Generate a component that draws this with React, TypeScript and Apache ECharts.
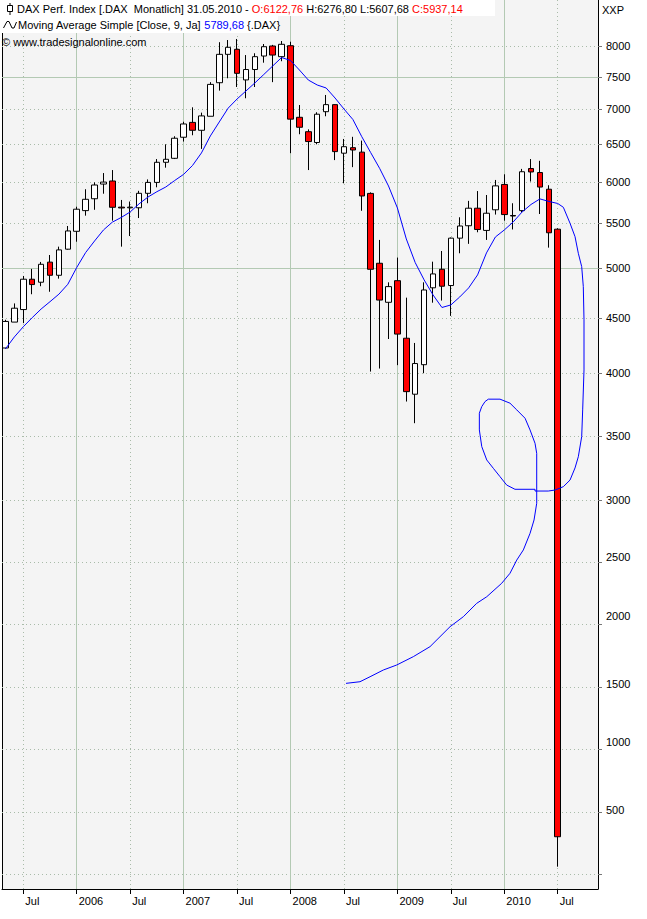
import React, { useEffect, useRef } from 'react';
import * as echarts from 'echarts';

const FONT = '"Liberation Sans", Arial, sans-serif';

// Month index: Jan 2005 = 0. First candle = May 2005.
const firstMonth = 4;
const opens = [
  4222, 4460, 4580, 4884, 4853, 5064, 4925, 5205,
  5406, 5648, 5792, 5975, 6014, 5690, 5682, 5682, 5859, 5996, 6257, 6310,
  6598, 6809, 6696, 6898, 7406, 7865, 7949, 7450, 7616, 7837, 8005, 7826,
  8010, 6883, 6676, 6525, 6965, 7070, 6379, 6454, 6393, 5858, 5052, 4651,
  4869, 4310, 3828, 4075, 4796, 4988, 4819, 5328, 5470, 5677, 5416, 5658,
  5970, 5590, 5648, 6175, 6122.76, 5910, 5430,
];
const closes = [
  4466, 4593, 4884, 4829, 5041, 4925, 5197, 5410,
  5665, 5785, 5963, 6000, 5688, 5680, 5690, 5859, 5996, 6257, 6297, 6584,
  6786, 6696, 6903, 7380, 7865, 7983, 7555, 7616, 7826, 7993, 7853, 8034,
  6856, 6739, 6538, 6928, 7070, 6400, 6467, 6422, 5826, 4988, 4673, 4808,
  4348, 3849, 4085, 4774, 4939, 4812, 5328, 5467, 5677, 5427, 5617, 5952,
  5601, 5584, 6133, 6130, 5937.14, 5389, 301,
];
const lows = [
  4215, 4460, 4450, 4731, 4812, 4756, 4890, 5200,
  5288, 5588, 5658, 5854, 5529, 5233, 5352, 5560, 5737, 5934, 6186, 6300,
  6538, 6626, 6437, 6898, 7283, 7476, 7339, 7166, 7339, 7727, 7415, 7751,
  6379, 6640, 6155, 6500, 6898, 6286, 5985, 6193, 5646, 4016, 4042, 4303,
  4071, 3769, 3600, 4002, 4647, 4668, 4519, 5160, 5264, 5395, 5308, 5601,
  5529, 5427, 5630, 6007, 5607.68, 5222, 61,
];
const highs = [
  4482, 4640, 4918, 4992, 5066, 5141, 5233, 5467,
  5695, 5910, 5996, 6116, 6155, 5777, 5758, 5890, 6034, 6300, 6500, 6612,
  6818, 7030, 6951, 7415, 8070, 8107, 8125, 7853, 7883, 8039, 8024, 8090,
  8078, 7064, 6709, 6957, 7216, 7075, 6574, 6604, 6551, 5871, 5308, 4852,
  5113, 4697, 4267, 4852, 5069, 5185, 5335, 5569, 5766, 5887, 5838, 6027,
  6100, 5737, 6170, 6300, 6276.8, 5960, 5441,
];

// Moving average line (as drawn): month position and value
const maMonths = [
  4, 5, 6, 7, 8, 9, 10, 11,
  12, 13, 14, 15, 16, 17, 18, 19, 20, 21, 22, 23,
  24, 25, 26, 27, 28, 29, 30, 31, 32, 33, 34, 35,
  36, 37, 38, 39, 40, 41, 42, 43, 44, 45, 46, 47,
  48, 49, 50, 51, 52, 53, 54, 55, 56, 57, 58, 59,
  60, 61, 62, 63, 64, 65, 66,
  66.63, 67.38, 67.94, 68.31, 68.69, 68.87, 68.95, 68.95, 68.8, 68.69,
  68.31, 67.94, 67.38, 66.63, 65.7, 64.94, 63.45, 63.45, 61.2, 60.27,
  59.52, 58.77, 58.03, 57.47, 57.2, 57.2, 57.47, 57.84, 58.21, 59.52,
  60.64, 61.4, 62.33, 62.89, 63.45, 63.64, 63.64, 63.34, 62.89, 62.14,
  61.4, 60.64, 59.71, 58.03, 56.9, 55.4, 53.91, 51.66, 49.79, 47.92,
  46.42, 44.93, 43.8, 42.23,
];
const maValues = [
  4214, 4322, 4416, 4502, 4585, 4657, 4732, 4832,
  5007, 5168, 5296, 5421, 5512, 5567, 5632, 5730, 5813, 5879, 5938, 6020,
  6099, 6215, 6382, 6616, 6815, 7018, 7155, 7278, 7403, 7536, 7673, 7812,
  7763, 7608, 7448, 7370, 7324, 7170, 7005, 6851, 6606, 6387, 6178, 5951,
  5680, 5319, 5059, 4877, 4724, 4600, 4625, 4704, 4795, 4929, 5164, 5341,
  5421, 5514, 5632, 5722, 5790, 5759, 5734,
  5688, 5499, 5345, 5160, 5016, 4808, 4481, 4030, 3703, 3499,
  3346, 3256, 3159, 3106, 3079, 3071, 3071, 3085, 3085, 3119,
  3186, 3253, 3320, 3426, 3549, 3677, 3729, 3769, 3788, 3788,
  3756, 3703, 3638, 3549, 3450, 3373, 2973, 2839, 2732, 2599,
  2518, 2412, 2332, 2224, 2171, 2064, 1984, 1824, 1744, 1677,
  1637, 1583, 1543, 1530,
];

const xTickMonths = [6, 12, 18, 24, 30, 36, 42, 48, 54, 60, 66];
const xTickLabels = ['Jul', '2006', 'Jul', '2007', 'Jul', '2008', 'Jul', '2009', 'Jul', '2010', 'Jul'];
const yTicks = [0, 500, 1000, 1500, 2000, 2500, 3000, 3500, 4000, 4500, 5000, 5500, 6000, 6500, 7000, 7500, 8000];
const yLabels = [500, 1000, 1500, 2000, 2500, 3000, 3500, 4000, 4500, 5000, 5500, 6000, 6500, 7000, 7500, 8000];
const ySolidLevels = [7500, 5000];

// Price scale of the original: linear below the break, logarithmic above.
const SCALE_BREAK = 3400;
const LIN_K = 0.1248;
const LOG_REF = 8000;
const LOG_REF_H = 828;
const LOG_K = 472;
const fwd = (v: number) => (v <= SCALE_BREAK ? v * LIN_K : LOG_REF_H - LOG_K * Math.log(LOG_REF / v));
const BREAK_H = fwd(SCALE_BREAK);
const inv = (h: number) => (h <= BREAK_H ? h / LIN_K : LOG_REF * Math.exp((h - LOG_REF_H) / LOG_K));

// The original draws some lower tick labels a few pixels above their tick (style only)
const labelLift: Record<number, number> = { 2500: 5, 2000: 9, 1500: 3, 1000: 8, 500: 2 };

const Y_MIN = -14.7;
const Y_MAX = 874.3;
const X_MIN = 3.61;
const X_MAX = 70.52;

export default function App() {
  const ref = useRef<HTMLDivElement>(null);
  useEffect(() => {
    if (!ref.current) return;
    const chart = echarts.init(ref.current, null, { renderer: 'svg' });

    const candles = opens.map((o, k) => [
      firstMonth + k,
      fwd(o),
      fwd(closes[k]),
      fwd(lows[k]),
      fwd(highs[k]),
    ]);
    const ma = maMonths.map((m, k) => [m, fwd(maValues[k])]);

    const solid = { color: '#b3c9b3', width: 1, type: 'solid' };
    const dotted = { color: '#a9bba9', width: 1, type: [1, 3] };

    const gridLines: any[] = [
      ...yTicks.map((v) => ({ yAxis: fwd(v), lineStyle: ySolidLevels.includes(v) ? solid : dotted })),
      ...xTickMonths.map((m) => ({ xAxis: m, lineStyle: m % 12 === 0 ? solid : dotted })),
    ];

    const labelRich: Record<string, any> = { n: { color: '#000', fontSize: 11, fontFamily: FONT } };
    Object.keys(labelLift).forEach((k) => {
      labelRich['l' + k] = {
        color: '#000',
        fontSize: 11,
        fontFamily: FONT,
        padding: [0, 0, labelLift[Number(k)] * 2, 0],
      };
    });

    const option: any = {
      animation: false,
      backgroundColor: '#ffffff',
      grid: {
        left: 2,
        right: 49,
        top: 0,
        bottom: 30,
        show: true,
        backgroundColor: '#f4f4f4',
        borderWidth: 0,
      },
      xAxis: {
        type: 'value',
        min: X_MIN,
        max: X_MAX,
        position: 'bottom',
        axisLine: { show: true, onZero: false, lineStyle: { color: '#000', width: 1 } },
        axisTick: { show: true, length: 5, lineStyle: { color: '#000' }, customValues: xTickMonths },
        axisLabel: {
          customValues: xTickMonths,
          formatter: (v: number) => xTickLabels[xTickMonths.indexOf(Math.round(v))] ?? '',
          align: 'left',
          margin: 6,
          padding: [0, 0, 0, 2],
          color: '#000',
          fontSize: 11,
          fontFamily: FONT,
        },
        splitLine: { show: false },
      },
      yAxis: [
        {
          type: 'value',
          position: 'right',
          min: Y_MIN,
          max: Y_MAX,
          axisLine: { show: true, onZero: false, lineStyle: { color: '#000', width: 1 } },
          axisTick: { show: true, length: 4, lineStyle: { color: '#777' }, customValues: yTicks.map(fwd) },
          axisLabel: {
            customValues: yLabels.map(fwd),
            formatter: (v: number) => {
              const val = Math.round(inv(v));
              return labelLift[val] ? `{l${val}|${val}}` : `{n|${val}}`;
            },
            rich: labelRich,
            margin: 8,
            color: '#000',
            fontSize: 11,
            fontFamily: FONT,
          },
          splitLine: { show: false },
        },
        {
          type: 'value',
          position: 'left',
          min: Y_MIN,
          max: Y_MAX,
          axisLine: { show: true, onZero: false, lineStyle: { color: '#000', width: 1 } },
          axisTick: { show: false },
          axisLabel: { show: false },
          splitLine: { show: false },
        },
      ],
      series: [
        {
          type: 'line',
          name: 'grid',
          data: [],
          z: 1,
          silent: true,
          markLine: {
            z: 1,
            silent: true,
            symbol: ['none', 'none'],
            label: { show: false },
            animation: false,
            emphasis: { disabled: true },
            data: gridLines,
          },
        },
        {
          type: 'candlestick',
          name: 'DAX',
          z: 3,
          barWidth: 6,
          data: candles,
          silent: true,
          itemStyle: {
            color: '#ffffff',
            color0: '#ff0000',
            borderColor: '#000000',
            borderColor0: '#000000',
            borderWidth: 1,
          },
        },
        {
          type: 'line',
          name: 'MA',
          z: 4,
          data: ma,
          showSymbol: false,
          silent: true,
          lineStyle: { color: '#0000ff', width: 1 },
        },
      ],
      graphic: {
        elements: [
          { type: 'rect', z: 100, shape: { x: 0, y: 0, width: 495, height: 16 }, style: { fill: '#fff' } },
          { type: 'rect', z: 100, shape: { x: 0, y: 16, width: 278, height: 17 }, style: { fill: '#fff' } },
          { type: 'line', z: 101, shape: { x1: 10, y1: 3, x2: 10, y2: 15 }, style: { stroke: '#000', lineWidth: 1 } },
          { type: 'rect', z: 102, shape: { x: 7.5, y: 5.5, width: 5, height: 6 }, style: { fill: '#fff', stroke: '#000', lineWidth: 1 } },
          {
            type: 'polyline',
            z: 101,
            shape: { points: [[3.5, 28], [7, 21.5], [9, 21.5], [12, 28], [14, 28], [16.5, 22]] },
            style: { stroke: '#000', lineWidth: 1, fill: null },
          },
          {
            type: 'text',
            z: 103,
            x: 17,
            y: 8.5,
            style: {
              text: 'DAX Perf. Index [.DAX  Monatlich] 31.05.2010 - {r|O:6122,76} H:6276,80 L:5607,68 {r|C:5937,14}',
              fill: '#000',
              fontSize: 11,
              fontFamily: FONT,
              verticalAlign: 'middle',
              rich: { r: { fill: '#ff0000', fontSize: 11, fontFamily: FONT } },
            },
          },
          {
            type: 'text',
            z: 103,
            x: 18,
            y: 25,
            style: {
              text: 'Moving Average Simple [Close, 9, Ja] {b|5789,68} {.DAX}',
              fill: '#000',
              fontSize: 11,
              fontFamily: FONT,
              verticalAlign: 'middle',
              rich: { b: { fill: '#0000ff', fontSize: 11, fontFamily: FONT } },
            },
          },
          {
            type: 'text',
            z: 103,
            x: 2,
            y: 41.5,
            style: {
              text: '\u00a9 www.tradesignalonline.com',
              fill: '#000',
              fontSize: 11,
              fontFamily: FONT,
              verticalAlign: 'middle',
            },
          },
          {
            type: 'text',
            z: 103,
            x: 602,
            y: 10,
            style: { text: 'XXP', fill: '#000', fontSize: 11, fontFamily: FONT, verticalAlign: 'middle' },
          },
        ],
      },
    };
    chart.setOption(option);
    return () => chart.dispose();
  }, []);
  return <div ref={ref} style={{ position: 'absolute', left: 0, top: 0, width: 647, height: 919 }} />;
}
